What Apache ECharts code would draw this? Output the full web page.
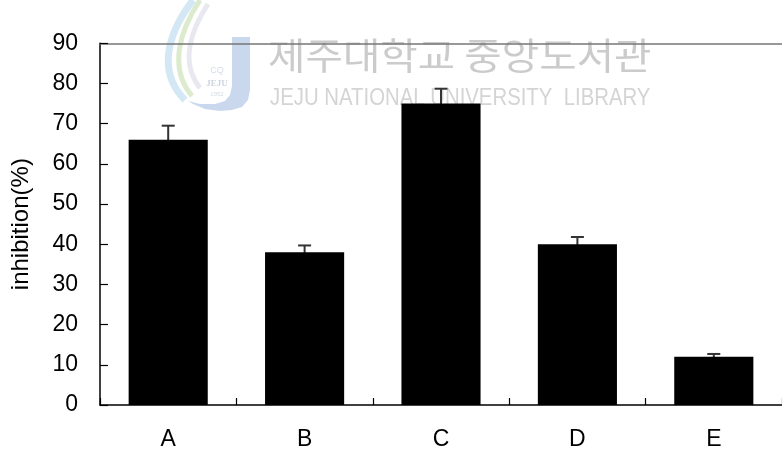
<!DOCTYPE html>
<html>
<head>
<meta charset="utf-8">
<script src="https://cdn.jsdelivr.net/npm/echarts@6/dist/echarts.min.js"></script>
<style>
  html, body { margin: 0; padding: 0; background: #fff; }
  #chart { width: 782px; height: 452px; }
</style>
</head>
<body>
<div id="chart"></div>
<script>
// Samples and their mean inhibition with upper error (SD)
const categories = ['A', 'B', 'C', 'D', 'E'];
const inhibition = [66, 38, 75, 40, 12];
const errors = [3.5, 1.7, 3.7, 1.8, 0.7];
const yTicks = { min: 0, max: 90, interval: 10 };

const chart = echarts.init(document.getElementById('chart'));

const errorData = categories.map((c, i) => [i, inhibition[i] - errors[i], inhibition[i] + errors[i]]);

function renderError(params, api) {
  const x = api.value(0);
  const lo = api.coord([x, api.value(1)]);
  const hi = api.coord([x, api.value(2)]);
  const cap = 6.5;
  const style = { stroke: '#333', lineWidth: 2 };
  return {
    type: 'group',
    children: [
      { type: 'line', shape: { x1: hi[0], y1: hi[1], x2: lo[0], y2: lo[1] }, style },
      { type: 'line', shape: { x1: hi[0] - cap, y1: hi[1], x2: hi[0] + cap, y2: hi[1] }, style }
    ]
  };
}

const font = 'Liberation Sans, Arial, sans-serif';

chart.setOption({
  animation: false,
  backgroundColor: '#fff',
  grid: { left: 100, right: -6.5, top: 43.3, bottom: 47 },
  xAxis: [
    {
      type: 'category',
      data: categories,
      axisLine: { lineStyle: { color: '#000', width: 1.5 } },
      axisTick: { show: true, inside: true, length: 7, lineStyle: { color: '#000', width: 1.2 } },
      axisLabel: { color: '#000', fontSize: 23, fontFamily: font, margin: 23 }
    },
    {
      type: 'category',
      position: 'top',
      data: categories,
      axisLine: { lineStyle: { color: '#777', width: 1.5 } },
      axisTick: { show: false },
      axisLabel: { show: false }
    }
  ],
  yAxis: {
    type: 'value',
    min: yTicks.min,
    max: yTicks.max,
    interval: yTicks.interval,
    name: 'inhibition(%)',
    nameLocation: 'middle',
    nameGap: 67,
    nameTextStyle: { color: '#000', fontSize: 24, fontFamily: font },
    axisLine: { show: true, lineStyle: { color: '#000', width: 1.5 } },
    axisTick: { show: true, inside: true, length: 8, lineStyle: { color: '#000', width: 1.2 } },
    axisLabel: { color: '#000', fontSize: 23, fontFamily: font, margin: 22 },
    splitLine: { show: false }
  },
  graphic: [
    // library watermark: logo
    {
      type: 'group', x: 160, y: 0, z: -10, silent: true,
      children: [
        { type: 'bezierCurve', shape: { x1: 33, y1: 0, cpx1: 10, cpy1: 30, cpx2: -5, cpy2: 70, x2: 25, y2: 100 },
          style: { stroke: '#d3e8f4', lineWidth: 7, fill: null } },
        { type: 'bezierCurve', shape: { x1: 40, y1: 0, cpx1: 20, cpy1: 30, cpx2: 8, cpy2: 68, x2: 32, y2: 96 },
          style: { stroke: '#dcebcd', lineWidth: 5, fill: null } },
        { type: 'bezierCurve', shape: { x1: 48, y1: 4, cpx1: 30, cpy1: 32, cpx2: 20, cpy2: 62, x2: 40, y2: 88 },
          style: { stroke: '#e8e8f0', lineWidth: 5, fill: null } },
        { type: 'polygon',
          shape: { points: [[72, 37], [90, 37], [90, 90], [88, 100], [82, 107], [72, 110], [60, 111], [45, 109],
                            [33, 104], [28, 101], [40, 104], [55, 104], [65, 101], [70, 95], [72, 86]] },
          style: { fill: '#cad8ee' } },
        { type: 'text', style: { x: 57, y: 66, text: 'CQ', fill: '#d6dbe6', font: '9px sans-serif', align: 'center' } },
        { type: 'text', style: { x: 57, y: 79, text: 'JEJU', fill: '#cdd3df', font: 'bold 9px serif', align: 'center' } },
        { type: 'text', style: { x: 57, y: 91, text: '1952', fill: '#d6dbe6', font: '6px sans-serif', align: 'center' } }
      ]
    },
    {
      type: 'text', x: 268, y: 37, z: -10, silent: true, scaleX: 1.1,
      style: { text: '제주대학교 중앙도서관', fill: '#cbcbcb', font: '37px "Noto Sans CJK KR"' }
    },
    {
      type: 'text', x: 270, y: 87, z: -10, silent: true, scaleX: 0.885,
      style: { text: 'JEJU NATIONAL UNIVERSITY  LIBRARY', fill: '#d4d4d4', font: '23px "Liberation Sans", Arial, sans-serif' }
    }
  ],
  series: [
    {
      type: 'custom',
      xAxisIndex: 0,
      data: errorData,
      renderItem: renderError,
      z: 1,
      silent: true
    },
    {
      type: 'bar',
      xAxisIndex: 0,
      data: inhibition,
      barWidth: '58%',
      itemStyle: { color: '#000' },
      z: 2
    }
  ]
});
</script>
</body>
</html>
